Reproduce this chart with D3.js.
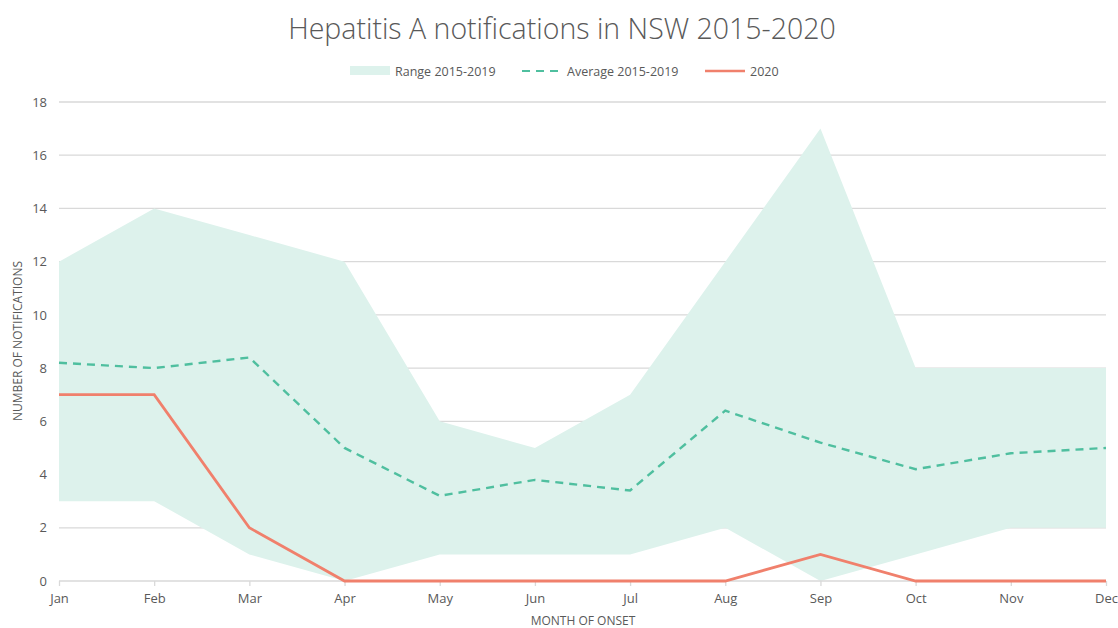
<!DOCTYPE html>
<html><head><meta charset="utf-8">
<script src="https://cdn.jsdelivr.net/npm/d3@7"></script>
<style>body{margin:0;background:#fff;overflow:hidden}svg{display:block}</style>
</head><body><svg id="c" width="1118" height="628"></svg>
<script>
const months = ["Jan","Feb","Mar","Apr","May","Jun","Jul","Aug","Sep","Oct","Nov","Dec"];
const rangeMax = [12,14,13,12,6,5,7,12,17,8,8,8];
const rangeMin = [3,3,1,0,1,1,1,2,0,1,2,2];
const average = [8.2,8.0,8.4,5.0,3.2,3.8,3.4,6.4,5.2,4.2,4.8,5.0];
const y2020 = [7,7,2,0,0,0,0,0,1,0,0,0];
const yTicks = [0,2,4,6,8,10,12,14,16,18];

const svg = d3.select("#c");
const font = "'Open Sans', sans-serif";
const textCol = "#595959";
const x = d3.scalePoint().domain(months).range([59,1106]);
const y = d3.scaleLinear().domain([0,18]).range([581,102]);

// gridlines
svg.append("g").selectAll("line").data(yTicks.filter(d=>d>0)).join("line")
  .attr("x1",59).attr("x2",1106).attr("y1",d=>y(d)).attr("y2",d=>y(d))
  .attr("stroke","#d9d9d9").attr("stroke-width",1.3);

// range area
const idx = months.map((m,i)=>i);
svg.append("path").datum(idx)
  .attr("d", d3.area().x(i=>x(months[i])).y0(i=>y(rangeMin[i])).y1(i=>y(rangeMax[i])))
  .attr("fill","#ddf2ec");

// x axis
const xAxis = svg.append("g").attr("transform",`translate(0,${y(0)})`)
  .call(d3.axisBottom(x).tickSize(5).tickPadding(8));
xAxis.select(".domain").attr("stroke","#d9d9d9").attr("stroke-width",1.3).attr("d","M59,0H1106");
xAxis.selectAll(".tick line").attr("stroke","#d9d9d9").attr("stroke-width",1.3);
xAxis.selectAll("text").attr("fill",textCol).attr("font-family",font).attr("font-size",13);

// y axis labels
const yAxis = svg.append("g").attr("transform","translate(47,0)")
  .call(d3.axisLeft(y).tickValues(yTicks).tickSize(0).tickPadding(0));
yAxis.select(".domain").remove();
yAxis.selectAll("text").attr("fill",textCol).attr("font-family",font).attr("font-size",13);

// average dashed
svg.append("path").datum(idx)
  .attr("d", d3.line().x(i=>x(months[i])).y(i=>y(average[i])))
  .attr("fill","none").attr("stroke","#4fbf9f").attr("stroke-width",2.4)
  .attr("stroke-dasharray","8,6");

// 2020 line
svg.append("path").datum(idx)
  .attr("d", d3.line().x(i=>x(months[i])).y(i=>y(y2020[i])))
  .attr("fill","none").attr("stroke","#f0806c").attr("stroke-width",2.8);

// title
svg.append("text").attr("x",562).attr("y",39).attr("text-anchor","middle")
  .attr("font-family",font).attr("font-weight",300).attr("font-size",28.5).attr("fill",textCol)
  .text("Hepatitis A notifications in NSW 2015-2020");

// axis titles
svg.append("text").attr("x",583).attr("y",625).attr("text-anchor","middle")
  .attr("font-family",font).attr("font-size",12).attr("fill",textCol).text("MONTH OF ONSET");
svg.append("text").attr("transform","translate(22,341) rotate(-90)").attr("text-anchor","middle")
  .attr("font-family",font).attr("font-size",12).attr("fill",textCol).text("NUMBER OF NOTIFICATIONS");

// legend
const lg = svg.append("g").attr("font-family",font).attr("font-size",12.5).attr("fill",textCol);
lg.append("rect").attr("x",350).attr("y",66).attr("width",40).attr("height",9).attr("fill","#ddf2ec");
lg.append("text").attr("x",395).attr("y",75.5).text("Range 2015-2019");
lg.append("line").attr("x1",522).attr("x2",562).attr("y1",71).attr("y2",71)
  .attr("stroke","#4fbf9f").attr("stroke-width",2.2).attr("stroke-dasharray","8,6");
lg.append("text").attr("x",567).attr("y",75.5).text("Average 2015-2019");
lg.append("line").attr("x1",705).attr("x2",745).attr("y1",71).attr("y2",71)
  .attr("stroke","#f0806c").attr("stroke-width",2.6);
lg.append("text").attr("x",750).attr("y",75.5).text("2020");
</script></body></html>
